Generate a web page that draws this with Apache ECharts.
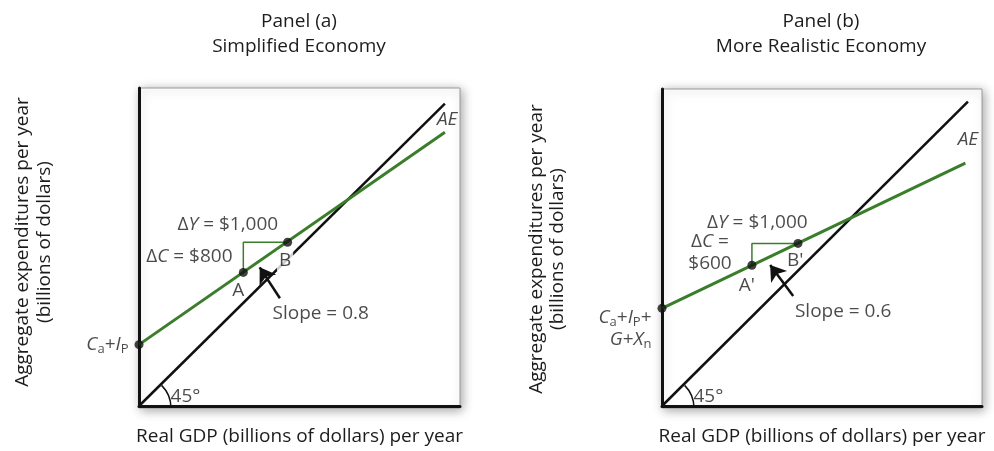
<!DOCTYPE html>
<html>
<head>
<meta charset="utf-8">
<script src="https://cdn.jsdelivr.net/npm/echarts@6/dist/echarts.min.js"></script>
<style>
  html, body { margin: 0; padding: 0; background: #fff; }
  #chart { width: 994px; height: 451px; }
</style>
</head>
<body>
<div id="chart"></div>
<script>
// panel (a) - simplified economy
const line45A = [[0, 0], [9.53, 9.51]]
const aeA = [[0, 1.93], [9.53, 8.61]]
const pointsA = [[0, 1.93], [3.25, 4.2], [4.63, 5.15]]
const triangleA = [[3.25, 4.2], [3.25, 5.15], [4.63, 5.15]]
const arrowA = [[4.39, 3.39], [3.76, 4.36]]
const labelsA = [
  { name: '{n|Δ}{i|Y}{n| = $1,000}', value: [2.77, 5.72] },
  { name: '{n|Δ}{i|C}{n| = $800}', value: [1.57, 4.69] },
  { name: '{n|A}', value: [3.09, 3.63] },
  { name: '{w|B}', value: [4.55, 4.57] },
  { name: '{i|AE}', value: [9.6, 9.02] },
  { name: '{n|Slope = 0.8}', value: [5.66, 2.91] },
  { name: '{n|45°}', value: [1.45, 0.31] }
]
const interceptA = '{i|C}{s|a}{n|+}{i|I}{s|P}'

// panel (b) - more realistic economy
const line45B = [[0, 0], [9.56, 9.6]]
const aeB = [[0, 3.08], [9.48, 7.66]]
const pointsB = [[0, 3.08], [2.81, 4.44], [4.25, 5.13]]
const triangleB = [[2.81, 4.44], [2.81, 5.13], [4.25, 5.13]]
const arrowB = [[4.1, 3.47], [3.38, 4.45]]
const labelsB = [
  { name: '{n|Δ}{i|Y}{n| = $1,000}', value: [2.98, 5.8] },
  { name: '{n|Δ}{i|C}{n| =}\n{n|$600}', value: [1.5, 4.83] },
  { name: '{n|A\'}', value: [2.65, 3.8] },
  { name: '{n|B\'}', value: [4.16, 4.59] },
  { name: '{i|AE}', value: [9.56, 8.4] },
  { name: '{n|Slope = 0.6}', value: [5.66, 2.98] },
  { name: '{n|45°}', value: [1.45, 0.31] }
]
const interceptB = '{i|C}{s|a}{n|+}{i|I}{s|P}{n|+}\n{i|G}{n|+}{i|X}{s|n}'

const FONT = 'Open Sans'
const FS = 19
const TXT = '#1e1b1c'
const GREEN = '#3a7d2a'
const gridsPx = [
  { left: 139, top: 88, width: 321, height: 320 },
  { left: 662, top: 89, width: 320, height: 319 }
]

const rich = {
  n: { fontFamily: FONT, fontSize: FS, color: TXT },
  i: { fontFamily: FONT, fontSize: FS, fontStyle: 'italic', color: TXT },
  s: { fontFamily: FONT, fontSize: 13, color: TXT, padding: [10, 0, 0, 0] },
  w: { fontFamily: FONT, fontSize: FS, color: TXT, backgroundColor: '#fff', padding: [1, 2] }
}

function axis(gi, name) {
  return {
    gridIndex: gi,
    type: 'value',
    min: 0,
    max: 10,
    name: name,
    nameLocation: 'middle',
    nameGap: 21,
    nameTextStyle: { fontFamily: FONT, fontSize: FS, color: TXT },
    axisLine: { show: true, onZero: false, lineStyle: { color: '#111', width: 3 } },
    axisTick: { show: false },
    axisLabel: { show: false },
    splitLine: { show: false }
  }
}

function panelSeries(gi, line45, ae, points, triangle, arrow, labels, intercept, interceptOffset) {
  return [
    {
      type: 'line', xAxisIndex: gi, yAxisIndex: gi, data: line45,
      symbol: 'none', lineStyle: { color: '#111', width: 2.5 }, z: 2
    },
    {
      type: 'line', xAxisIndex: gi, yAxisIndex: gi, data: ae,
      symbol: 'none', lineStyle: { color: GREEN, width: 3 }, z: 3
    },
    {
      type: 'line', xAxisIndex: gi, yAxisIndex: gi, data: triangle,
      symbol: 'none', lineStyle: { color: GREEN, width: 1.5 }, z: 3
    },
    {
      type: 'lines', coordinateSystem: 'cartesian2d', xAxisIndex: gi, yAxisIndex: gi,
      data: [{ coords: arrow }],
      symbol: ['none', 'arrow'], symbolSize: 15,
      lineStyle: { color: '#111', width: 2.5, opacity: 1 }, z: 4
    },
    {
      type: 'scatter', xAxisIndex: gi, yAxisIndex: gi, clip: false,
      data: points.map((p, i) => ({
        value: p,
        label: i === 0 ? {
          show: true, position: 'left', distance: 6, offset: interceptOffset,
          align: 'right', lineHeight: 22, formatter: intercept, rich: rich
        } : { show: false }
      })),
      symbolSize: 9, itemStyle: { color: '#111' }, z: 5
    },
    {
      type: 'scatter', xAxisIndex: gi, yAxisIndex: gi, clip: false,
      data: labels, symbolSize: 0, z: 6,
      label: {
        show: true, position: 'inside', align: 'center', verticalAlign: 'middle',
        lineHeight: 22,
        formatter: p => p.name, rich: rich
      }
    }
  ]
}

function text(x, y, str, rot) {
  return {
    type: 'text', x: x, y: y, rotation: rot || 0,
    style: {
      text: str, fill: TXT, font: FS + 'px "' + FONT + '"',
      align: 'center', verticalAlign: 'middle'
    }
  }
}

function arc(g) {
  return {
    type: 'arc', z: 10,
    shape: { cx: g.left, cy: g.top + g.height, r: 32, startAngle: -Math.PI / 4, endAngle: 0 },
    style: { stroke: '#111', lineWidth: 1.5, fill: null }
  }
}

function box(g) {
  return {
    type: 'rect', z: -10,
    shape: { x: g.left, y: g.top, width: g.width, height: g.height },
    style: { fill: '#fff', stroke: '#9a9a9a', lineWidth: 1, shadowBlur: 10, shadowColor: 'rgba(0,0,0,0.35)', shadowOffsetX: 2, shadowOffsetY: 2 }
  }
}

const chart = echarts.init(document.getElementById('chart'))
chart.setOption({
  backgroundColor: '#fff',
  animation: false,
  grid: gridsPx.map(g => Object.assign({ containLabel: false }, g)),
  xAxis: [
    axis(0, 'Real GDP (billions of dollars) per year'),
    axis(1, 'Real GDP (billions of dollars) per year')
  ],
  yAxis: [axis(0, ''), axis(1, '')],
  graphic: [
    box(gridsPx[0]),
    box(gridsPx[1]),
    arc(gridsPx[0]),
    arc(gridsPx[1]),
    text(299, 22, 'Panel (a)'),
    text(299, 47, 'Simplified Economy'),
    text(821, 22, 'Panel (b)'),
    text(821, 47, 'More Realistic Economy'),
    text(23, 242, 'Aggregate expenditures per year', Math.PI / 2),
    text(45, 242, '(billions of dollars)', Math.PI / 2),
    text(537, 249, 'Aggregate expenditures per year', Math.PI / 2),
    text(558, 249, '(billions of dollars)', Math.PI / 2)
  ],
  series: [].concat(
    panelSeries(0, line45A, aeA, pointsA, triangleA, arrowA, labelsA, interceptA, [0, 0]),
    panelSeries(1, line45B, aeB, pointsB, triangleB, arrowB, labelsB, interceptB, [0, 20])
  )
})
window.addEventListener('resize', function() {
  chart.resize()
})
</script>
</body>
</html>
